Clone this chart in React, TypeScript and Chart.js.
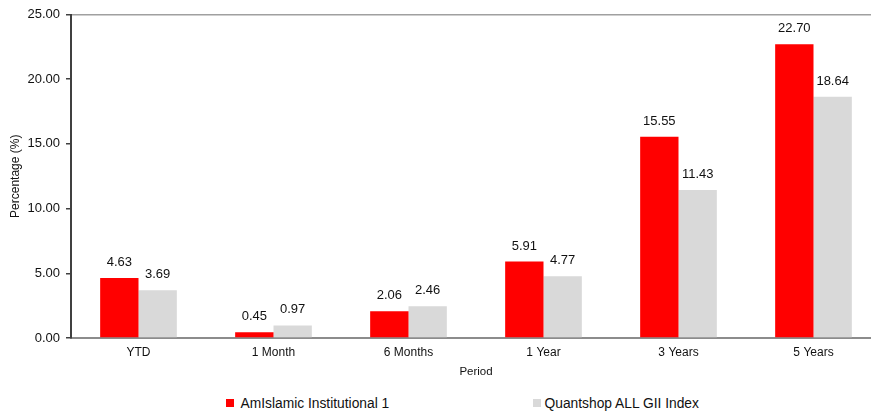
import React, { useEffect, useRef } from "react";
import { Chart, registerables } from "chart.js";

Chart.register(...registerables);

const categories = ["YTD", "1 Month", "6 Months", "1 Year", "3 Years", "5 Years"];
const fundValues = [4.63, 0.45, 2.06, 5.91, 15.55, 22.7];
const indexValues = [3.69, 0.97, 2.46, 4.77, 11.43, 18.64];
const seriesNames = ["AmIslamic Institutional 1", "Quantshop ALL GII Index"];
const seriesColors = ["#ff0000", "#d9d9d9"];
const yMin = 0;
const yMax = 25;
const yStep = 5;
const xTitle = "Period";
const yTitle = "Percentage (%)";

const FONT = '"Liberation Sans", Arial, Helvetica, sans-serif';

const valueLabels = {
  id: "valueLabels",
  afterDatasetsDraw(chart: any) {
    const ctx = chart.ctx;
    ctx.save();
    ctx.font = `13px ${FONT}`;
    ctx.fillStyle = "#111";
    ctx.textAlign = "center";
    ctx.textBaseline = "alphabetic";
    chart.data.datasets.forEach((ds: any, di: number) => {
      const meta = chart.getDatasetMeta(di);
      meta.data.forEach((bar: any, i: number) => {
        const v = ds.data[i] as number;
        ctx.fillText(v.toFixed(2), bar.x, bar.y - 12);
      });
    });
    ctx.restore();
  },
};

export default function App() {
  const ref = useRef<HTMLCanvasElement | null>(null);

  useEffect(() => {
    if (!ref.current) return;
    const chart = new Chart(ref.current, {
      type: "bar",
      data: {
        labels: categories,
        datasets: [
          {
            label: seriesNames[0],
            data: fundValues,
            backgroundColor: seriesColors[0],
            categoryPercentage: 0.568,
            barPercentage: 1,
          },
          {
            label: seriesNames[1],
            data: indexValues,
            backgroundColor: seriesColors[1],
            categoryPercentage: 0.568,
            barPercentage: 1,
          },
        ],
      },
      options: {
        animation: false,
        responsive: true,
        maintainAspectRatio: false,
        layout: { padding: { top: 14.5, right: 0, bottom: 0, left: 0 } },
        plugins: {
          legend: { display: false },
          tooltip: { enabled: false },
        },
        scales: {
          x: {
            grid: { display: false, drawTicks: false },
            border: { display: true, color: "#8c8c8c", width: 2 },
            ticks: {
              color: "#111",
              font: { family: FONT, size: 12 },
              padding: 7,
              maxRotation: 0,
            },
            title: {
              display: true,
              text: xTitle,
              color: "#111",
              font: { family: FONT, size: 11.5 },
              padding: { top: 0, bottom: 6 },
            },
            afterFit: (s: any) => {
              s.height = 47;
            },
          },
          y: {
            min: yMin,
            max: yMax,
            ticks: {
              stepSize: yStep,
              color: "#111",
              font: { family: FONT, size: 13 },
              padding: 6,
              callback: (v: any) => Number(v).toFixed(2),
            },
            grid: {
              color: (c: any) =>
                c.tick && c.tick.value === yMax ? "#a0a0a0" : "rgba(0,0,0,0)",
              lineWidth: 1.5,
              tickColor: "#404040",
              tickLength: 5,
              tickWidth: 1.5,
            },
            border: { display: true, color: "#404040", width: 2 },
            title: {
              display: true,
              text: yTitle,
              color: "#111",
              font: { family: FONT, size: 12 },
              padding: { top: 8, bottom: 0 },
            },
            afterFit: (s: any) => {
              s.width = 71;
            },
          },
        },
      },
      plugins: [valueLabels],
    });
    return () => chart.destroy();
  }, []);

  const legendItem = (name: string, color: string, left: number, gap: number) => (
    <div
      style={{
        position: "absolute",
        left,
        top: 396,
        height: 14,
        display: "flex",
        alignItems: "center",
        fontFamily: FONT,
        fontSize: 13.8,
        color: "#111",
        whiteSpace: "nowrap",
      }}
    >
      <span
        style={{
          display: "inline-block",
          width: 8,
          height: 8,
          background: color,
          marginRight: gap,
        }}
      />
      <span>{name}</span>
    </div>
  );

  return (
    <div
      style={{
        position: "fixed",
        left: 0,
        top: 0,
        width: 871,
        height: 412,
        overflow: "hidden",
        background: "#fff",
      }}
    >
      <div style={{ position: "absolute", left: 0, top: 0, width: 881, height: 385 }}>
        <canvas ref={ref} />
      </div>
      {legendItem(seriesNames[0], seriesColors[0], 226, 6.5)}
      {legendItem(seriesNames[1], seriesColors[1], 533, 3.5)}
    </div>
  );
}
